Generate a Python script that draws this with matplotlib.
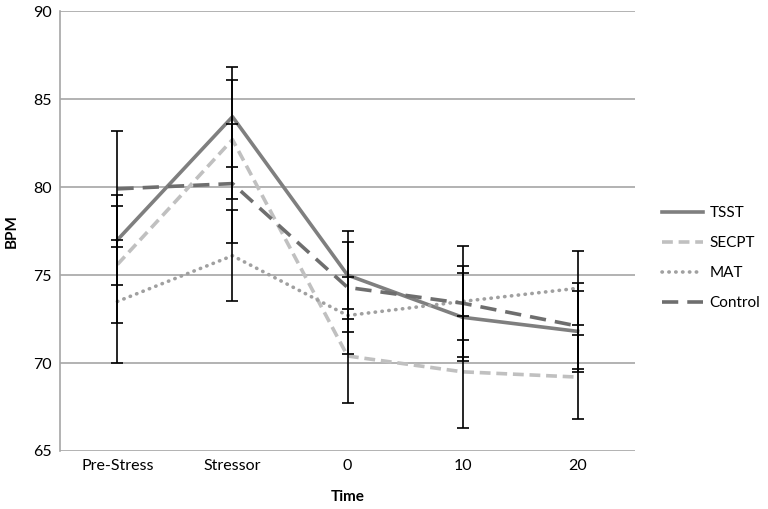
import numpy as np
import matplotlib.pyplot as plt

plt.rcParams['font.family'] = ['Lato', 'DejaVu Sans']

times = ["Pre-Stress", "Stressor", "0", "10", "20"]

tsst = [77.0, 84.0, 75.0, 72.6, 71.8]
tsst_err = [2.55, 2.85, 2.5, 2.5, 2.3]

secpt = [75.6, 82.7, 70.4, 69.5, 69.2]
secpt_err = [3.35, 3.4, 2.65, 3.2, 2.4]

mat = [73.5, 76.1, 72.7, 73.5, 74.25]
mat_err = [3.5, 2.6, 2.2, 3.15, 2.1]

control = [79.9, 80.2, 74.3, 73.4, 72.1]
control_err = [3.3, 3.4, 2.56, 2.1, 2.43]

fig = plt.figure(figsize=(7.68, 5.09), dpi=100)
ax = fig.add_axes([0.078, 0.114, 0.749, 0.864])

x = np.arange(len(times))
series = [
    ("TSST", tsst, tsst_err, dict(color="#7f7f7f", linestyle="-", linewidth=2.6)),
    ("SECPT", secpt, secpt_err, dict(color="#c0c0c0", linestyle=(0, (3, 1.6)), linewidth=2.6)),
    ("MAT", mat, mat_err, dict(color="#a0a0a0", linestyle=(0, (0.1, 1.8)), linewidth=2.6,
                               dash_capstyle="round")),
    ("Control", control, control_err, dict(color="#6e6e6e", linestyle=(0, (4.5, 2.5)), linewidth=2.6)),
]

for name, vals, err, style in series:
    ax.plot(x, vals, label=name, zorder=3, **style)
    ax.errorbar(x, vals, yerr=err, fmt="none", ecolor="black", elinewidth=1.2,
                capsize=4, capthick=1.2, zorder=4)

ax.set_xlim(-0.5, 4.5)
ax.set_ylim(65, 90)
ax.set_yticks([65, 70, 75, 80, 85, 90])
ax.set_xticks(x)
ax.set_xticklabels(times)
ax.yaxis.grid(True, color="#a6a6a6", linewidth=1.2)
ax.set_axisbelow(True)
for s in ["top", "right", "bottom"]:
    ax.spines[s].set_visible(False)
ax.spines["left"].set_color("#a6a6a6")
ax.spines["left"].set_linewidth(1.2)
ax.tick_params(axis="both", length=0, labelsize=11.5, colors="black", pad=6)

ax.set_xlabel("Time", fontweight="bold", fontsize=11, labelpad=12)
ax.set_ylabel("BPM", fontweight="bold", fontsize=11, labelpad=10)

fig.legend(loc="center left", bbox_to_anchor=(0.862, 0.493), frameon=False,
           fontsize=11, handlelength=2.7, labelspacing=1.05, handletextpad=0.4,
           borderpad=0, borderaxespad=0)

fig.savefig("out.png", dpi=100)
